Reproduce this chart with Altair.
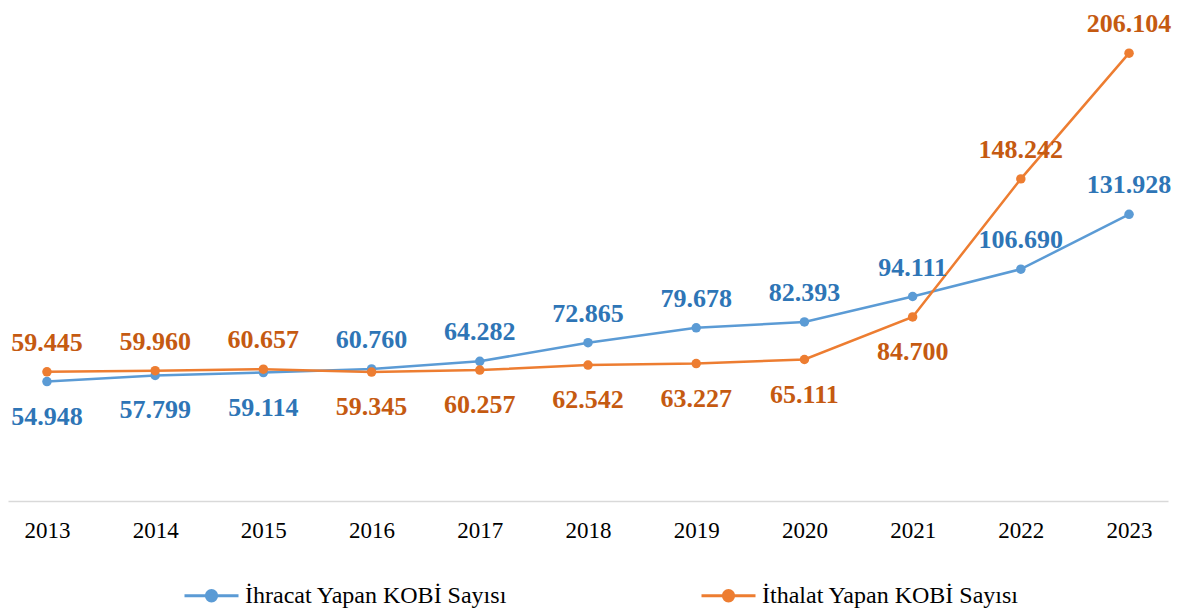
import altair as alt
import pandas as pd

years = [str(y) for y in range(2013, 2024)]
ihracat = [54948, 57799, 59114, 60760, 64282, 72865, 79678, 82393, 94111, 106690, 131928]
ithalat = [59445, 59960, 60657, 59345, 60257, 62542, 63227, 65111, 84700, 148242, 206104]
series_names = ["İhracat Yapan KOBİ Sayısı", "İthalat Yapan KOBİ Sayısı"]
line_colors = ["#5B9BD5", "#ED7D31"]
label_colors = ["#2E75B6", "#C55A11"]
# which side of its point each value label sits on (as in the reference)
ihracat_label_above = [False, False, False, True, True, True, True, True, True, True, True]
ithalat_label_above = [True, True, True, False, False, False, False, False, False, True, True]


def fmt(v):
    return f"{v:,}".replace(",", ".")


rows = []
for i, yr in enumerate(years):
    rows.append(dict(year=yr, series=series_names[0], value=ihracat[i],
                     above=ihracat_label_above[i], label=fmt(ihracat[i])))
    rows.append(dict(year=yr, series=series_names[1], value=ithalat[i],
                     above=ithalat_label_above[i], label=fmt(ithalat[i])))
df = pd.DataFrame(rows)

FONT = "Liberation Serif"
legend_symbol = (
    "M-1,0L1,0M-0.19,0A0.19,0.19,0,1,1,0.19,0A0.19,0.19,0,1,1,-0.19,0Z"
)

x = alt.X(
    "year:O",
    sort=years,
    scale=alt.Scale(type="point", padding=0.36),
    axis=alt.Axis(
        title=None,
        labelAngle=0,
        ticks=False,
        grid=False,
        domainColor="#D9D9D9",
        domainWidth=1.5,
        labelFont=FONT,
        labelFontSize=23,
        labelColor="#000000",
        labelPadding=18,
    ),
)
y = alt.Y("value:Q", scale=alt.Scale(domain=[0, 225500], nice=False), axis=None)
color = alt.Color(
    "series:N",
    scale=alt.Scale(domain=series_names, range=line_colors),
    legend=alt.Legend(
        title=None,
        orient="none",
        legendX=175,
        legendY=556,
        direction="horizontal",
        symbolType=legend_symbol,
        symbolSize=2916,
        symbolStrokeWidth=3,
        labelFont=FONT,
        labelFontSize=24,
        labelColor="#000000",
        labelOffset=5,
        labelLimit=500,
        columnPadding=187,
    ),
)

base = alt.Chart(df).encode(x=x, y=y)

lines = base.mark_line(strokeWidth=2.5).encode(color=color)
points = base.mark_point(size=90, opacity=1, filled=True, strokeWidth=3).encode(color=color)

text_color = (
    alt.when(alt.datum.series == series_names[0])
    .then(alt.value(label_colors[0]))
    .otherwise(alt.value(label_colors[1]))
)
text_above = (
    base.transform_filter("datum.above")
    .mark_text(font=FONT, fontSize=26, fontWeight="bold", baseline="alphabetic", align="center", dy=-21)
    .encode(text="label:N", color=text_color)
)
text_below = (
    base.transform_filter("!datum.above")
    .mark_text(font=FONT, fontSize=26, fontWeight="bold", baseline="alphabetic", align="center", dy=43)
    .encode(text="label:N", color=text_color)
)

chart = (
    alt.layer(lines, points, text_above, text_below)
    .properties(
        width=1160,
        height=490,
        autosize=alt.AutoSizeParams(type="none"),
        padding={"left": 0, "top": 3, "right": 8, "bottom": 110},
        background="white",
    )
    .configure_view(stroke=None)
)

chart.save("out.html", embed_options={"renderer": "svg", "actions": False})
